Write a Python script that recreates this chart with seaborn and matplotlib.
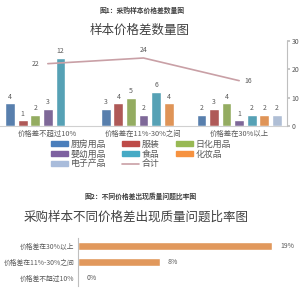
import matplotlib
matplotlib.use('Agg')
import matplotlib.pyplot as plt
import seaborn as sns
import pandas as pd
from matplotlib.patches import Patch
from matplotlib.lines import Line2D

sns.set_theme(style="white")
plt.rcParams['font.family'] = ['Noto Sans CJK SC', 'DejaVu Sans']

# 图1：采购样本价格差数量图
区间 = ['价格差不超过10%', '价格差在11%-30%之间', '价格差在30%以上']
品类 = ['厨房用品', '服装', '日化用品', '婴幼用品', '食品', '化妆品', '电子产品']
厨房用品 = [4, 3, 2]
服装 = [1, 4, 3]
日化用品 = [2, 5, 4]
婴幼用品 = [3, 2, 1]
食品 = [12, 6, 2]
化妆品 = [0, 4, 2]
电子产品 = [0, 0, 2]
合计 = [22, 24, 16]

# 图2：不同价格差出现质量问题比率图
比率区间 = ['价格差在30%以上', '价格差在11%-30%之间', '价格差不超过10%']
比率 = [19, 8, 0]

颜色 = ['#4A7EBB', '#BE4B48', '#98B954', '#7D60A0', '#46AAC5', '#F69240', '#A9BCDB']
线色 = '#C9A0A6'
字色 = '#595959'

rows = []
for name, vals in zip(品类, [厨房用品, 服装, 日化用品, 婴幼用品, 食品, 化妆品, 电子产品]):
    for cat, v in zip(区间, vals):
        rows.append({'区间': cat, '品类': name, '数量': v})
df = pd.DataFrame(rows)

W, H = 302, 290
fig = plt.figure(figsize=(W / 100, H / 100), dpi=100)

# ---- 上图 ----
ax1 = fig.add_axes([0 / W, 1 - 126 / H, 287 / W, 85 / H])
sns.barplot(data=df, x='区间', y='数量', hue='品类', hue_order=品类, order=区间,
            palette=颜色, width=0.92, gap=0.22, ax=ax1, legend=False)
for cont in ax1.containers:
    labs = [str(int(v)) if v > 0 else '' for v in cont.datavalues]
    ax1.bar_label(cont, labels=labs, padding=2, fontsize=5, color=字色)
ax1.set_ylim(0, 15)
ax1.set_xlim(-0.5, 2.5)
ax1.set_xlabel('')
ax1.set_ylabel('')
ax1.set_yticks([])
ax1.tick_params(axis='x', length=0, labelsize=5.3, labelcolor=字色, pad=3)
for s in ['left', 'right', 'top']:
    ax1.spines[s].set_visible(False)
ax1.spines['bottom'].set_color('#D0D0D0')
ax1.spines['bottom'].set_linewidth(0.8)

ax2 = ax1.twinx()
ax2.plot(range(len(合计)), 合计, color=线色, lw=1.2)
ax2.set_ylim(0, 30)
ax2.set_yticks([0, 10, 20, 30])
ax2.tick_params(axis='y', length=2, labelsize=5, labelcolor=字色, color='#BFBFBF', pad=1.5)
for s in ['left', 'top', 'bottom']:
    ax2.spines[s].set_visible(False)
ax2.spines['right'].set_color('#BFBFBF')
ax2.spines['right'].set_linewidth(0.8)
ax2.grid(False)
ax2.annotate(str(合计[0]), (0, 合计[0]), xytext=(-6, 0), textcoords='offset points',
             ha='right', va='center', fontsize=5, color=字色)
ax2.annotate(str(合计[1]), (1, 合计[1]), xytext=(0, 3), textcoords='offset points',
             ha='center', va='bottom', fontsize=5, color=字色)
ax2.annotate(str(合计[2]), (2, 合计[2]), xytext=(4, 0), textcoords='offset points',
             ha='left', va='center', fontsize=5, color=字色)

fig.text(142 / W, 1 - 10 / H, '图1：采购样本价格差数量图', ha='center', va='center',
         fontsize=4.9, fontweight='bold', color='#404040')
fig.text(140 / W, 1 - 30 / H, '样本价格差数量图', ha='center', va='center',
         fontsize=9, color='#404040')

h = {n: Patch(color=c) for n, c in zip(品类, 颜色)}
h['合计'] = Line2D([], [], color=线色, lw=1.2)
order = ['厨房用品', '婴幼用品', '电子产品', '服装', '食品', '合计', '日化用品', '化妆品']
fig.legend([h[n] for n in order], order, ncol=3, loc='center',
           bbox_to_anchor=(141 / W, 1 - 154 / H), frameon=False, fontsize=6.4,
           handlelength=1.9, handleheight=0.5, labelspacing=0.1,
           columnspacing=1.8, handletextpad=0.3, labelcolor=字色)

# ---- 下图 ----
ax3 = fig.add_axes([78 / W, 1 - 286 / H, 204 / W, 48 / H])
sns.barplot(x=比率, y=比率区间, orient='h', color='#F79646', width=0.5, ax=ax3)
ax3.bar_label(ax3.containers[0], labels=[f'{v}%' for v in 比率], padding=6,
              fontsize=5, color=字色)
ax3.set_xlim(0, 20)
ax3.set_ylim(2.5, -0.5)
ax3.set_xticks([])
ax3.tick_params(axis='y', length=0, labelsize=4.9, labelcolor=字色, pad=2.5)
for s in ['right', 'top', 'bottom']:
    ax3.spines[s].set_visible(False)
ax3.spines['left'].set_color('#BFBFBF')
ax3.spines['left'].set_linewidth(0.8)

fig.text(141 / W, 1 - 196 / H, '图2：不同价格差出现质量问题比率图', ha='center', va='center',
         fontsize=4.9, fontweight='bold', color='#404040')
fig.text(136 / W, 1 - 217 / H, '采购样本不同价格差出现质量问题比率图', ha='center', va='center',
         fontsize=9, color='#404040')

fig.savefig('out.png', dpi=100)
